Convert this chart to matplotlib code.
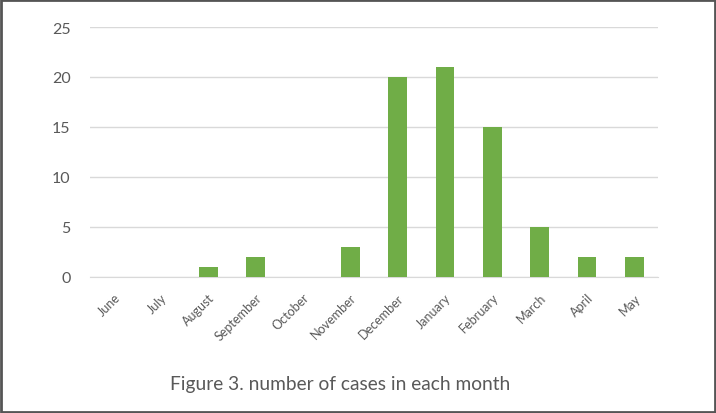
import matplotlib.pyplot as plt
from matplotlib.patches import Rectangle

months = ["June", "July", "August", "September", "October", "November",
          "December", "January", "February", "March", "April", "May"]
cases = [0, 0, 1, 2, 0, 3, 20, 21, 15, 5, 2, 2]
yticks = [0, 5, 10, 15, 20, 25]

plt.rcParams['font.family'] = ['Lato', 'DejaVu Sans']
text_col = '#595959'

fig = plt.figure(figsize=(7.16, 4.14), dpi=100)
ax = fig.add_axes([90/716, 136/414, 568/716, 250/414])

x = range(len(months))
ax.bar(x, cases, width=0.4, color='#70AD47', zorder=3)

ax.set_xlim(-0.5, len(months) - 0.5)
ax.set_ylim(0, 25)
ax.set_yticks(yticks)
ax.set_yticklabels([str(v) for v in yticks], fontsize=11.5, color=text_col)
ax.set_xticks(list(x))
ax.set_xticklabels(months, rotation=45, ha='right', rotation_mode='anchor',
                   fontsize=9, color=text_col)

ax.grid(axis='y', color='#D9D9D9', linewidth=1, zorder=0)
for s in ['top', 'right', 'left']:
    ax.spines[s].set_visible(False)
ax.spines['bottom'].set_color('#D9D9D9')
ax.tick_params(axis='both', length=0)
ax.tick_params(axis='x', pad=10)
ax.tick_params(axis='y', pad=14)

fig.text(340/716, 1 - 385/414, "Figure 3. number of cases in each month",
         ha='center', va='center', fontsize=13.8, color=text_col)

fig.patches.append(Rectangle((0.001, 0.002), 0.997, 0.996, transform=fig.transFigure,
                             fill=False, edgecolor='#555555', linewidth=2))

fig.savefig('out.png', dpi=100)
